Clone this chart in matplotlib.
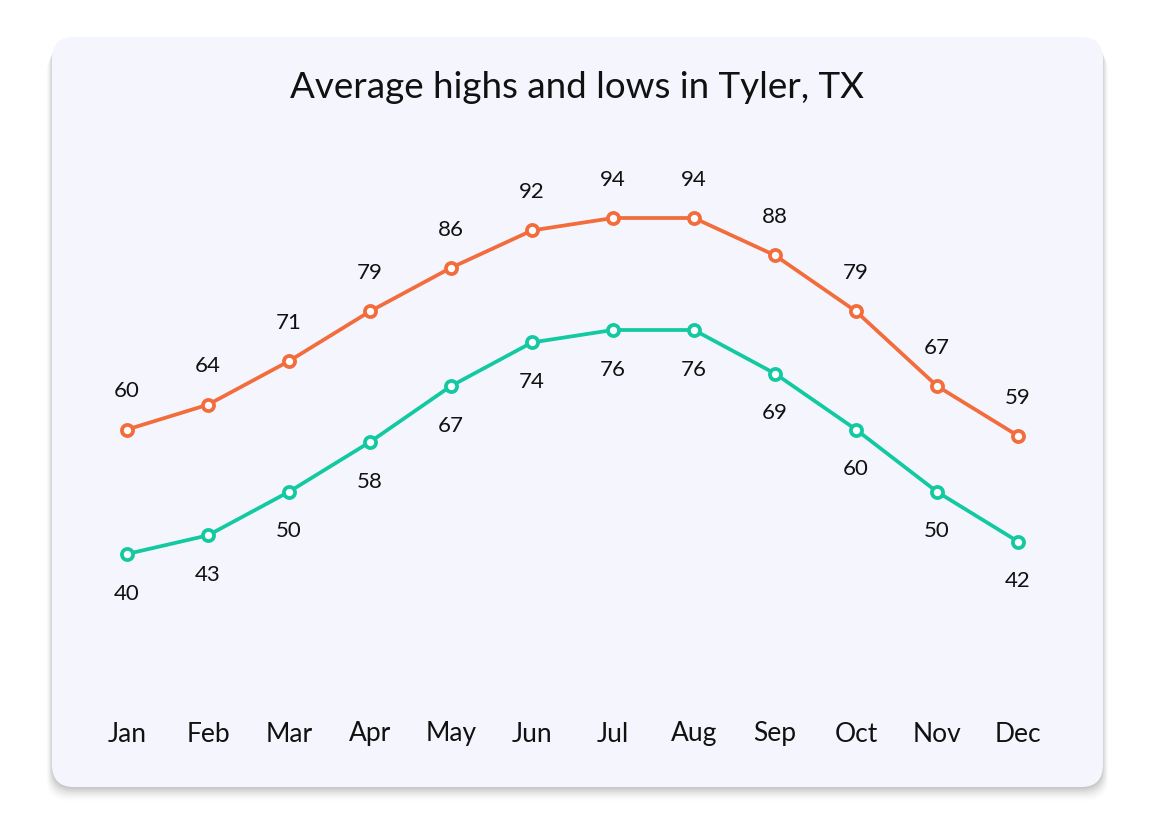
import matplotlib
matplotlib.use("Agg")
import matplotlib.pyplot as plt
from matplotlib.patches import FancyBboxPatch
from matplotlib.transforms import IdentityTransform

months = ["Jan", "Feb", "Mar", "Apr", "May", "Jun", "Jul", "Aug", "Sep", "Oct", "Nov", "Dec"]
highs = [60, 64, 71, 79, 86, 92, 94, 94, 88, 79, 67, 59]
lows = [40, 43, 50, 58, 67, 74, 76, 76, 69, 60, 50, 42]

title = "Average highs and lows in Tyler, TX"
high_color = "#F26C3C"
low_color = "#12C9A2"
card_color = "#F5F6FD"

W, H = 1155, 825
fig = plt.figure(figsize=(W / 100, H / 100), dpi=100)
fig.patch.set_facecolor("white")

# card (pixel coordinates, origin bottom-left)
cx0, cx1 = 52, 1103
cy_top, cy_bot = 37, 787
x0, y0 = cx0, H - cy_bot
w, h = cx1 - cx0, cy_bot - cy_top
tr = IdentityTransform()
# shadow
for i, a in enumerate([0.04, 0.035, 0.03, 0.027, 0.023, 0.02, 0.016, 0.012, 0.008]):
    off = 2 + i * 1.5
    sh = FancyBboxPatch((x0 - i * 0.7, y0 - off), w + i * 1.4, h,
                        boxstyle="round,pad=0,rounding_size=22",
                        transform=tr, facecolor="#000000", edgecolor="none",
                        alpha=a, zorder=-2)
    fig.patches.append(sh)
card = FancyBboxPatch((x0, y0), w, h, boxstyle="round,pad=0,rounding_size=22",
                      transform=tr, facecolor=card_color, edgecolor="none", zorder=-1)
fig.patches.append(card)

ax = fig.add_axes([0, 0, 1, 1])
ax.set_zorder(2)
ax.set_facecolor("none")
x = list(range(len(months)))
# pixel mapping: index -> 127 + 81*i ; value -> 554 - (v-40)*6.222
px_per_x = 81.0
px_per_v = 336 / 54.0
ax.set_xlim(-127 / px_per_x, (W - 127) / px_per_x)
ax.set_ylim(40 - (H - 554) / px_per_v, 40 + 554 / px_per_v)
for s in ax.spines.values():
    s.set_visible(False)
ax.set_xticks([])
ax.set_yticks([])

font = "Lato"
ax.plot(x, highs, color=high_color, lw=2.7, marker="o", ms=8, mfc="white",
        mec=high_color, mew=2.7, zorder=3, solid_capstyle="round")
ax.plot(x, lows, color=low_color, lw=2.7, marker="o", ms=8, mfc="white",
        mec=low_color, mew=2.7, zorder=3, solid_capstyle="round")

for i, v in enumerate(highs):
    ax.annotate(str(v), (i, v), xytext=(0, 27.5), textcoords="offset points",
                ha="center", va="center", fontsize=16, family=font, color="#111111")
for i, v in enumerate(lows):
    ax.annotate(str(v), (i, v), xytext=(0, -28.5), textcoords="offset points",
                ha="center", va="center", fontsize=16, family=font, color="#111111")

# month labels
month_y = 40 - (734 - 554) / px_per_v
for i, m in enumerate(months):
    ax.text(i, month_y, m, ha="center", va="center", fontsize=19, family=font, color="#111111")

fig.text(0.5, 1 - 88 / H, title, ha="center", va="center", fontsize=26.5,
         family=font, color="#111111", zorder=3)

fig.savefig("out.png", dpi=100, facecolor="white")
